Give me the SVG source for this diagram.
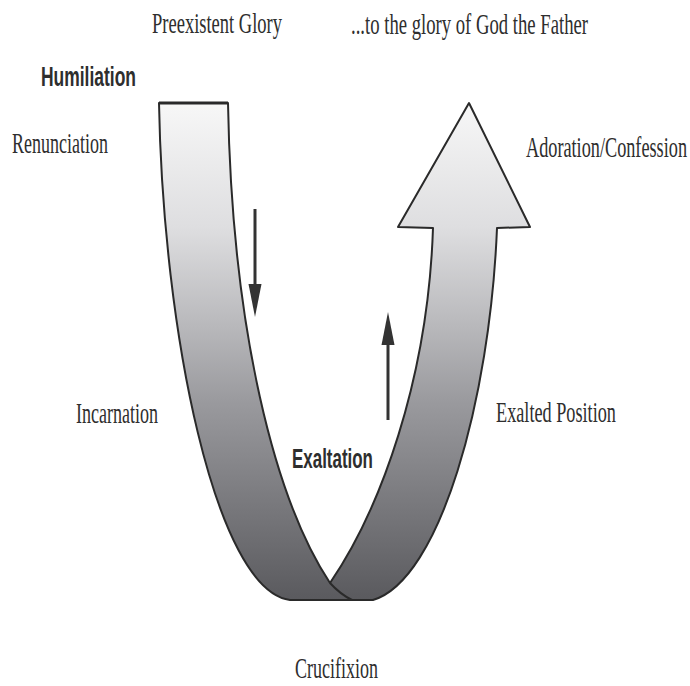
<svg xmlns="http://www.w3.org/2000/svg" width="690" height="686" viewBox="0 0 690 686">
<defs>
<linearGradient id="shade" gradientUnits="userSpaceOnUse" x1="0" y1="103" x2="0" y2="600">
<stop offset="0" stop-color="#f7f7f7"/>
<stop offset="0.25" stop-color="#dedee0"/>
<stop offset="0.45" stop-color="#b8b8bb"/>
<stop offset="0.6" stop-color="#9a9a9e"/>
<stop offset="0.8" stop-color="#7a7a7e"/>
<stop offset="1" stop-color="#5a5a5e"/>
</linearGradient>
</defs>
<style>
.band{fill:url(#shade);stroke:#2a2a2a;stroke-width:2;stroke-linejoin:round}
.serif{font-family:"Liberation Serif","Times New Roman",serif;font-size:30px;fill:#2e2e2e}
.bold{font-family:"Liberation Sans",Arial,sans-serif;font-weight:bold;font-size:28px;fill:#2e2e2e}
.small{stroke:#333;stroke-width:3;fill:none}
</style>
<rect width="690" height="686" fill="#fff"/>
<g id="ribbon">
<path id="right-band" class="band" d="M433,228 L398,227 L469,103 L530,227 L497,228 C490,400 440,580 373,600 L320,600 L330,583 C380,510 428,380 433,228 Z"/>
<path id="left-band" class="band" d="M159,103 L228,103 C232,330 275,500 330,583 Q340,594 352,600 L290,600 C215,590 163,330 159,103 Z"/>
<line x1="159" y1="103" x2="228" y2="103" stroke="#2a2a2a" stroke-width="3"/>
</g>
<g id="connectors">
<line class="small" x1="255" y1="209" x2="255" y2="290"/>
<polygon points="248.5,284 261.5,284 255,317" fill="#333"/>
<line class="small" x1="388" y1="420" x2="388" y2="340"/>
<polygon points="381.5,345 394.5,345 388,312" fill="#333"/>
</g>
<g id="preexistent"><text class="serif" transform="translate(152,33) scale(0.62,1)" textLength="209.7" lengthAdjust="spacingAndGlyphs">Preexistent Glory</text></g>
<g id="glory-father"><text class="serif" transform="translate(351,34) scale(0.62,1)" textLength="382.3" lengthAdjust="spacingAndGlyphs">...to the glory of God the Father</text></g>
<g id="humiliation"><text class="bold" transform="translate(41,86) scale(0.62,1)" textLength="153.2" lengthAdjust="spacingAndGlyphs">Humiliation</text></g>
<g id="renunciation"><text class="serif" transform="translate(12,153) scale(0.62,1)" textLength="154.8" lengthAdjust="spacingAndGlyphs">Renunciation</text></g>
<g id="adoration"><text class="serif" transform="translate(526,157) scale(0.62,1)" textLength="259.7" lengthAdjust="spacingAndGlyphs">Adoration/Confession</text></g>
<g id="incarnation"><text class="serif" transform="translate(76,423) scale(0.62,1)" textLength="132.3" lengthAdjust="spacingAndGlyphs">Incarnation</text></g>
<g id="exalted-position"><text class="serif" transform="translate(496,422) scale(0.62,1)" textLength="193.5" lengthAdjust="spacingAndGlyphs">Exalted Position</text></g>
<g id="exaltation"><text class="bold" transform="translate(292,468) scale(0.62,1)" textLength="130.6" lengthAdjust="spacingAndGlyphs">Exaltation</text></g>
<g id="crucifixion"><text class="serif" transform="translate(295,678) scale(0.62,1)" textLength="133.9" lengthAdjust="spacingAndGlyphs">Crucifixion</text></g>
</svg>
